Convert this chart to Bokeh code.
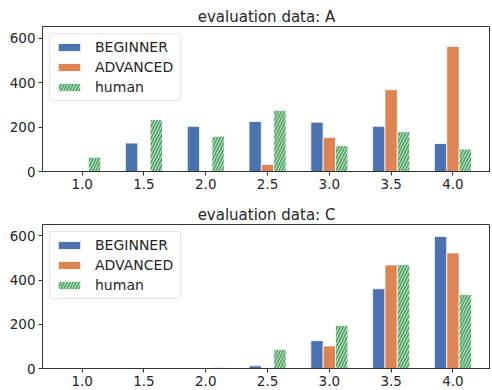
from bokeh.plotting import figure
from bokeh.layouts import column
from bokeh.models import Range1d, FixedTicker, ColumnDataSource, Legend, LegendItem
from bokeh.transform import dodge
from bokeh.embed import file_html
from bokeh.resources import INLINE

# ---- data ----
ratings = [1.0, 1.5, 2.0, 2.5, 3.0, 3.5, 4.0]
tick_labels = ["1.0", "1.5", "2.0", "2.5", "3.0", "3.5", "4.0"]
y_ticks = [0, 200, 400, 600]
series_names = ["BEGINNER", "ADVANCED", "human"]

a_beginner = [2, 128, 203, 225, 222, 203, 126]
a_advanced = [0, 0, 0, 32, 153, 368, 562]
a_human = [64, 233, 158, 274, 116, 179, 101]

c_beginner = [0, 0, 0, 12, 126, 361, 598]
c_advanced = [0, 0, 0, 3, 102, 469, 523]
c_human = [0, 0, 4, 86, 195, 470, 335]

colors = ["#4C72B0", "#DD8452", "#55A868"]
offsets = [-0.1, 0.0, 0.1]
TEXT = "#262626"
FONT = "DejaVu Sans"


def make_panel(title, beg, adv, hum, height, top_border, bottom_border):
    src = ColumnDataSource(dict(x=ratings, BEGINNER=beg, ADVANCED=adv, human=hum))
    p = figure(width=490, height=height,
               x_range=Range1d(0.679, 4.304), y_range=Range1d(0, 652),
               output_backend="svg", toolbar_location=None,
               min_border_left=42, min_border_right=0,
               min_border_top=top_border, min_border_bottom=bottom_border)
    p.title.text = title
    p.title.align = "center"
    p.title.text_font = FONT
    p.title.text_font_size = "15px"
    p.title.text_font_style = "normal"
    p.title.text_color = TEXT
    p.title.standoff = 2
    p.grid.visible = False
    p.outline_line_color = "#333333"
    p.outline_line_width = 1
    p.outline_line_alpha = 1

    items = []
    for name, col, off in zip(series_names, colors, offsets):
        kw = {}
        if name == "human":
            kw = dict(hatch_pattern="/", hatch_color="white", hatch_scale=6,
                      hatch_weight=0.8, hatch_alpha=0.9)
        r = p.vbar(x=dodge("x", off, range=p.x_range), top=name, width=0.1,
                   source=src, fill_color=col, line_color="white",
                   line_width=0.8, **kw)
        items.append(LegendItem(label=name, renderers=[r]))

    leg = Legend(items=items, location="top_left")
    leg.label_text_font = FONT
    leg.label_text_font_size = "14px"
    leg.label_text_color = TEXT
    leg.glyph_width = 28
    leg.glyph_height = 10
    leg.label_height = 14
    leg.label_width = 80
    leg.label_standoff = 12
    leg.spacing = 4
    leg.padding = 5
    leg.margin = 7
    leg.border_line_color = "#cccccc"
    leg.border_line_width = 1
    leg.border_radius = 3
    leg.background_fill_alpha = 0.8
    p.add_layout(leg)

    for ax in (p.xaxis[0], p.yaxis[0]):
        ax.axis_line_color = "#333333"
        ax.major_tick_line_color = "#333333"
        ax.major_tick_out = 4
        ax.major_tick_in = 0
        ax.minor_tick_line_color = None
        ax.major_label_text_font = FONT
        ax.major_label_text_font_size = "13.5px"
        ax.major_label_text_color = TEXT
        ax.major_label_standoff = 3
    p.xaxis.ticker = FixedTicker(ticks=ratings)
    p.xaxis.major_label_overrides = {r: t for r, t in zip(ratings, tick_labels)}
    p.yaxis.ticker = FixedTicker(ticks=y_ticks)
    return p


p1 = make_panel("evaluation data: A", a_beginner, a_advanced, a_human, 195, 26, 24)
p2 = make_panel("evaluation data: C", c_beginner, c_advanced, c_human, 193, 29, 20)
layout = column(p1, p2, spacing=0)

open("out.html", "w").write(file_html(layout, INLINE))
